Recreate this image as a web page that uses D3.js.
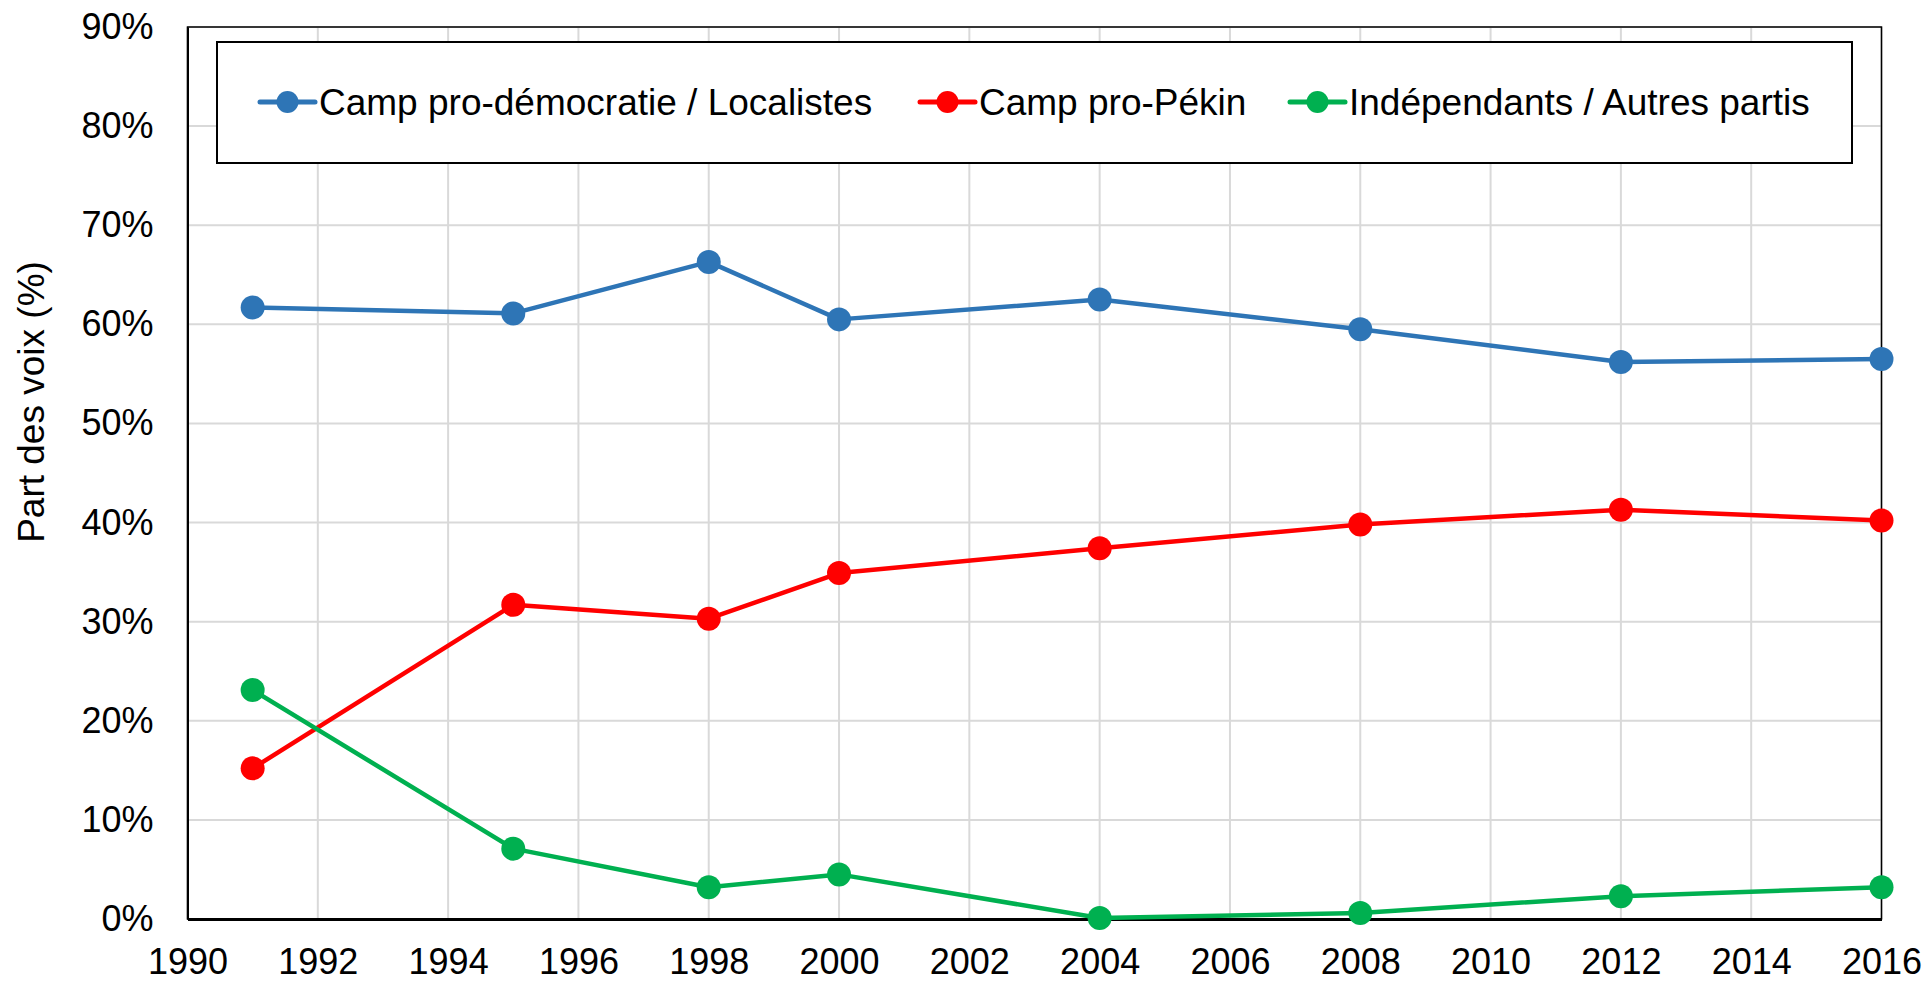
<!DOCTYPE html>
<html>
<head>
<meta charset="utf-8">
<script src="https://cdn.jsdelivr.net/npm/d3@7"></script>
<style>
  body { margin: 0; background: #fff; }
  svg { display: block; font-family: "Liberation Sans", Arial, sans-serif; }
</style>
</head>
<body>
<div id="chart"></div>
<script>
const years = [1991, 1995, 1998, 2000, 2004, 2008, 2012, 2016];
const proDemo = [61.7, 61.1, 66.3, 60.5, 62.5, 59.5, 56.2, 56.5];
const proPekin = [15.2, 31.7, 30.3, 34.9, 37.4, 39.8, 41.3, 40.2];
const autres = [23.1, 7.1, 3.2, 4.5, 0.1, 0.6, 2.3, 3.2];
const seriesNames = ["Camp pro-démocratie / Localistes", "Camp pro-Pékin", "Indépendants / Autres partis"];
const seriesColors = ["#2E75B6", "#FF0000", "#00B050"];
const xTicks = d3.range(1990, 2017, 2);
const yTicks = d3.range(0, 91, 10);

const width = 1930, height = 982;
const plot = { left: 187.5, right: 1881.5, top: 27, bottom: 919 };

const x = d3.scaleLinear().domain([1990, 2016]).range([plot.left, plot.right]);
const y = d3.scaleLinear().domain([0, 90]).range([plot.bottom, plot.top]);

const svg = d3.select("#chart").append("svg")
  .attr("width", width)
  .attr("height", height);

// grid
svg.append("g")
  .selectAll("line.v")
  .data(xTicks)
  .join("line")
  .attr("x1", d => x(d)).attr("x2", d => x(d))
  .attr("y1", plot.top).attr("y2", plot.bottom)
  .attr("stroke", "#d9d9d9").attr("stroke-width", 2);

svg.append("g")
  .selectAll("line.h")
  .data(yTicks)
  .join("line")
  .attr("x1", plot.left).attr("x2", plot.right)
  .attr("y1", d => y(d)).attr("y2", d => y(d))
  .attr("stroke", "#d9d9d9").attr("stroke-width", 2);

// frame
svg.append("rect")
  .attr("x", plot.left).attr("y", plot.top)
  .attr("width", plot.right - plot.left)
  .attr("height", plot.bottom - plot.top)
  .attr("fill", "none").attr("stroke", "#000").attr("stroke-width", 1.5);

// axes
const xAxis = svg.append("g")
  .attr("transform", `translate(0,${plot.bottom})`)
  .call(d3.axisBottom(x).tickValues(xTicks).tickFormat(d3.format("d")).tickSize(0).tickPadding(29));
xAxis.select(".domain").attr("stroke", "#000").attr("stroke-width", 3);
xAxis.selectAll("text").attr("font-size", 36).attr("fill", "#000").attr("font-family", "Liberation Sans, Arial, sans-serif");

const yAxis = svg.append("g")
  .attr("transform", `translate(${plot.left},0)`)
  .call(d3.axisLeft(y).tickValues(yTicks).tickFormat(d => d + "%").tickSize(0).tickPadding(34));
yAxis.select(".domain").attr("stroke", "#000").attr("stroke-width", 2);
yAxis.selectAll("text").attr("font-size", 36).attr("fill", "#000").attr("font-family", "Liberation Sans, Arial, sans-serif");

svg.append("text")
  .attr("transform", "translate(44,402) rotate(-90)")
  .attr("text-anchor", "middle")
  .attr("font-size", 37)
  .text("Part des voix (%)");

// series
const allSeries = [proDemo, proPekin, autres];
const line = d3.line().x((d, i) => x(years[i])).y(d => y(d));

allSeries.forEach((vals, s) => {
  const g = svg.append("g");
  g.append("path")
    .datum(vals)
    .attr("d", line)
    .attr("fill", "none")
    .attr("stroke", seriesColors[s])
    .attr("stroke-width", 4.5)
    .attr("stroke-linejoin", "round");
  g.selectAll("circle")
    .data(vals)
    .join("circle")
    .attr("cx", (d, i) => x(years[i]))
    .attr("cy", d => y(d))
    .attr("r", 12)
    .attr("fill", seriesColors[s]);
});

// legend
const legend = svg.append("g");
legend.append("rect")
  .attr("x", 217).attr("y", 42)
  .attr("width", 1852 - 217).attr("height", 121)
  .attr("fill", "#fff").attr("stroke", "#000").attr("stroke-width", 2);

const legendX = [260, 920, 1290];
const legendY = 102;
seriesNames.forEach((name, s) => {
  const g = legend.append("g").attr("transform", `translate(${legendX[s]},${legendY})`);
  g.append("line")
    .attr("x1", 0).attr("x2", 55)
    .attr("stroke", seriesColors[s]).attr("stroke-width", 5).attr("stroke-linecap", "round");
  g.append("circle").attr("cx", 27.5).attr("r", 11).attr("fill", seriesColors[s]);
  g.append("text")
    .attr("x", 59).attr("y", 13)
    .attr("font-size", 37)
    .text(name);
});
</script>
</body>
</html>
